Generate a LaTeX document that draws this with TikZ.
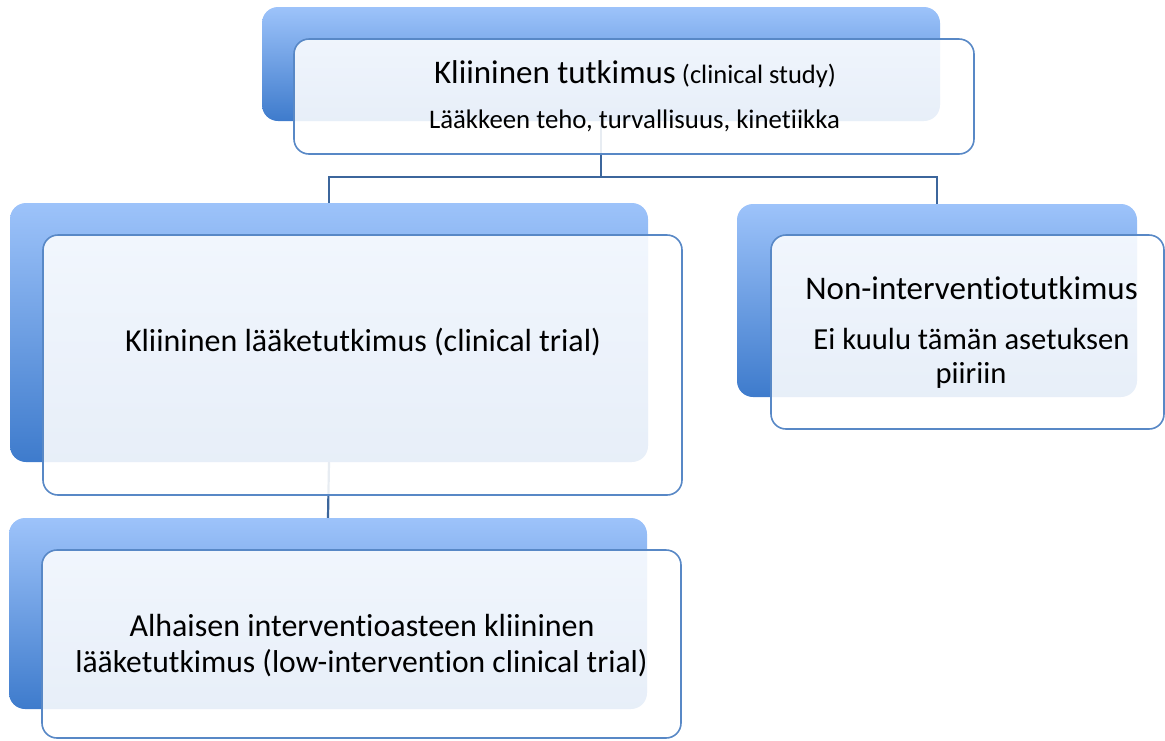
\documentclass[tikz,border=0pt]{standalone}
\usepackage{fontspec}
\setmainfont{Carlito}[Ligatures={NoCommon,NoContextual}]
\pgfdeclarelayer{bg}
\pgfsetlayers{bg,main}
\definecolor{backtop}{RGB}{157,195,250}
\definecolor{backbot}{RGB}{62,123,204}
\definecolor{frontborder}{RGB}{88,136,198}
\definecolor{conncol}{RGB}{60,102,156}
\tikzset{
  backbox/.style={rectangle, rounded corners=16pt, inner sep=0pt, draw=none,
    top color=backtop, bottom color=backbot},
  frontbox/.style={rectangle, rounded corners=15pt, inner sep=0pt,
    draw=frontborder, line width=1.6pt, fill=white, fill opacity=0.88},
  conn/.style={draw=conncol, line width=2.2pt},
  txt/.style={anchor=base, inner sep=0pt, text=black},
}
\newcommand{\fsz}[1]{\fontsize{#1}{#1}\selectfont}
\begin{document}
\begin{tikzpicture}[x=1pt,y=-1pt]
\path[use as bounding box] (0,0) rectangle (1165,740);
% back boxes
\node[backbox, minimum width=678pt, minimum height=114pt] (topback) at (601,64) {};
\node[backbox, minimum width=638pt, minimum height=259pt] (leftback) at (329,332.5) {};
\node[backbox, minimum width=400pt, minimum height=193pt] (rightback) at (937,300.5) {};
\node[backbox, minimum width=638pt, minimum height=191pt] (bottomback) at (328,613.5) {};
% connectors
\coordinate (bus) at (601,177);
\begin{pgfonlayer}{bg}
\draw[conn] (topback.south) -- (topback.south |- bus) -| (leftback.north);
\draw[conn] (topback.south) -- (topback.south |- bus) -| (rightback.north);
\draw[conn] (leftback.south) -- (bottomback.north);
\end{pgfonlayer}
% front boxes
\node[frontbox, minimum width=680pt, minimum height=115pt] (topfront) at (634,96.5) {};
\node[frontbox, minimum width=639pt, minimum height=260pt] (leftfront) at (362.5,365) {};
\node[frontbox, minimum width=393pt, minimum height=194pt] (rightfront) at (967.5,332) {};
\node[frontbox, minimum width=639pt, minimum height=188pt] (bottomfront) at (361.5,644) {};
% texts
\node[txt] (t1) at (635,83) {\fsz{33}Kliininen tutkimus\fsz{26.5} (clinical study)};
\node[txt] (t2) at (634.5,128) {\fsz{26.8}Lääkkeen teho, turvallisuus, kinetiikka};
\node[txt] (l1) at (363,351) {\fsz{32}Kliininen lääketutkimus (clinical trial)};
\node[txt] (r1) at (971.5,299) {\fsz{33}Non-interventiotutkimus};
\node[txt] (r2) at (971.5,349) {\fsz{30.6}Ei kuulu tämän asetuksen};
\node[txt] (r3) at (971,383) {\fsz{30.6}piiriin};
\node[txt] (b1) at (362,636) {\fsz{32}Alhaisen interventioasteen kliininen};
\node[txt] (b2) at (361.5,672) {\fsz{31.6}lääketutkimus (low-intervention clinical trial)};
\end{tikzpicture}
\end{document}
